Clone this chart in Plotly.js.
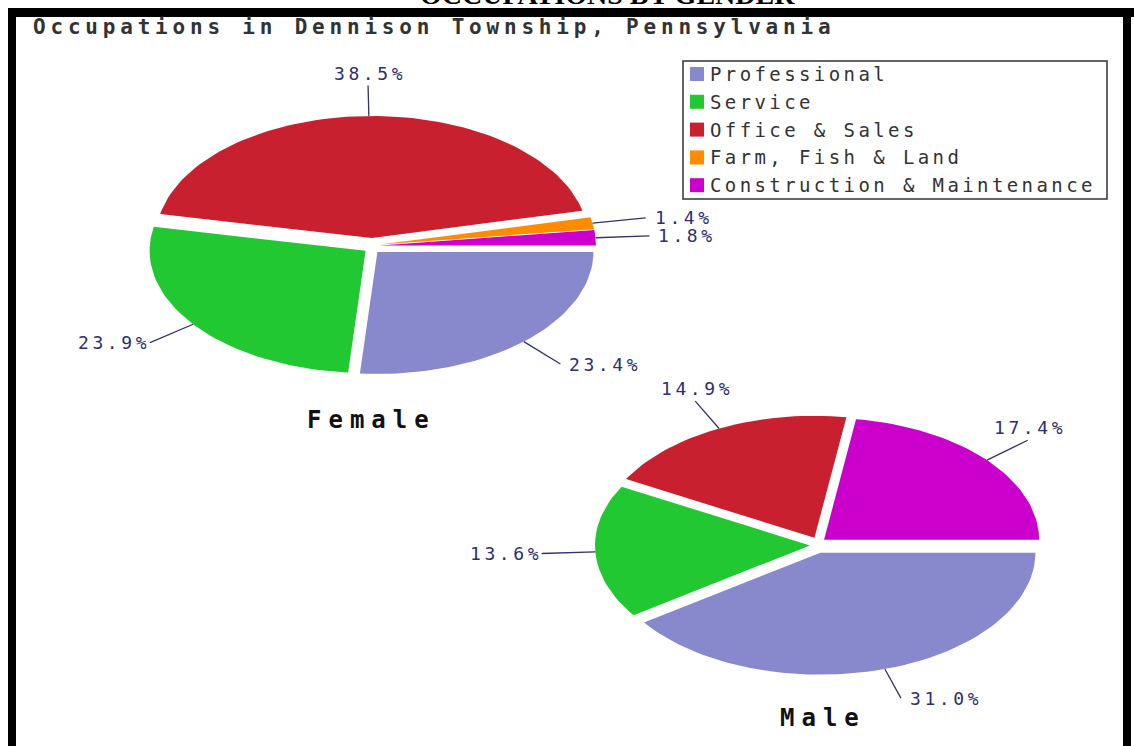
<!DOCTYPE html>
<html><head><meta charset="utf-8">
<script src="https://cdn.plot.ly/plotly-3.0.1.min.js"></script>
<style>html,body{margin:0;padding:0;background:#fff;overflow:hidden}</style>
</head><body><div id="chart" style="width:1134px;height:746px"></div>
<script>
// ---------- data ----------
const categories = ['Professional', 'Service', 'Office & Sales', 'Farm, Fish & Land', 'Construction & Maintenance'];
const femaleValues = [23.4, 23.9, 38.5, 1.4, 1.8];
const maleValues = [31.0, 13.6, 14.9, null, 17.4];
const pieNames = ['Female', 'Male'];
const chartTitle = 'OCCUPATIONS BY GENDER';
const chartSubtitle = 'Occupations in Dennison Township, Pennsylvania';

// ---------- styles / geometry ----------
const sliceColors = ['#8888cc', '#22c832', '#c8202e', '#ff8c00', '#cc00cc'];
const W = 1134, H = 746;
const labelColor = '#2e2e6e';
const mono = '"DejaVu Sans Mono", "Liberation Mono", monospace';
const geom = [
  {cx: 372, cy: 246, rx: 216, ry: 122, pull: 8, nameX: 371, nameY: 420},
  {cx: 818, cy: 545, rx: 215, ry: 122, pull: 8, nameX: 823, nameY: 718}
];
const spaced = (t, ls) => '<span style="letter-spacing:' + ls + 'px">' + t + '</span>';

const traces = [];
const annotations = [];
const shapes = [];

[femaleValues, maleValues].forEach((vals, p) => {
  const g = geom[p];
  const total = vals.reduce((s, v) => s + (v || 0), 0);
  let a = 0;
  const lx = [], ly = [];
  vals.forEach((v, i) => {
    if (!v) return;
    const span = v / total * 2 * Math.PI;
    const a0 = a, a1 = a + span, m = (a0 + a1) / 2;
    a = a1;
    const ox = g.cx + g.pull * Math.cos(m), oy = g.cy + g.pull * Math.sin(m);
    const xs = [ox], ys = [oy];
    const n = Math.max(4, Math.ceil(span / (Math.PI / 90)));
    for (let k = 0; k <= n; k++) {
      const t = a0 + span * k / n;
      xs.push(ox + g.rx * Math.cos(t));
      ys.push(oy + g.ry * Math.sin(t));
    }
    xs.push(ox); ys.push(oy);
    traces.push({
      type: 'scatter', mode: 'lines', x: xs, y: ys, fill: 'toself',
      fillcolor: sliceColors[i], line: {width: 0, color: sliceColors[i]},
      name: categories[i], showlegend: false, hoverinfo: 'text',
      text: pieNames[p] + ' – ' + categories[i] + ': ' + v.toFixed(1) + '%'
    });
    // leader line
    const ex = ox + g.rx * Math.cos(m), ey = oy + g.ry * Math.sin(m);
    const kx = ox + 1.25 * g.rx * Math.cos(m), ky = oy + 1.25 * g.ry * Math.sin(m);
    lx.push(ex, kx, null); ly.push(ey, ky, null);
    const ann = {
      x: kx, y: ky, xref: 'x', yref: 'y', showarrow: false,
      text: spaced(v.toFixed(1) + '%', 3.6),
      font: {family: mono, size: 18, color: labelColor}
    };
    if (Math.sin(m) < -0.5) { ann.xanchor = 'center'; ann.yanchor = 'bottom'; ann.xshift = 2; }
    else if (Math.cos(m) >= 0) { ann.xanchor = 'left'; ann.yanchor = 'middle'; ann.xshift = 7; }
    else { ann.xanchor = 'right'; ann.yanchor = 'middle'; ann.xshift = 2; }
    annotations.push(ann);
  });
  traces.push({
    type: 'scatter', mode: 'lines', x: lx, y: ly, showlegend: false, hoverinfo: 'skip',
    line: {color: '#333366', width: 1.3}
  });
  annotations.push({
    x: g.nameX, y: g.nameY, xref: 'x', yref: 'y', showarrow: false,
    xanchor: 'center', yanchor: 'middle',
    text: spaced('<b>' + pieNames[p] + '</b>', 7),
    font: {family: mono, size: 24, color: '#111'}
  });
});

// legend (manual box)
shapes.push({type: 'rect', xref: 'x', yref: 'y', x0: 683, x1: 1107, y0: 61, y1: 199,
  line: {color: '#333', width: 1.5}, fillcolor: 'rgba(0,0,0,0)'});
categories.forEach((c, i) => {
  const yc = 74 + 27.8 * i;
  shapes.push({type: 'rect', xref: 'x', yref: 'y', x0: 690, x1: 704, y0: yc - 7, y1: yc + 7,
    line: {width: 0}, fillcolor: sliceColors[i]});
  annotations.push({x: 708, y: yc, xref: 'x', yref: 'y', showarrow: false,
    xanchor: 'left', yanchor: 'middle', text: spaced(c, 3.4),
    font: {family: mono, size: 19, color: '#333'}});
});

// frame
shapes.push({type: 'rect', xref: 'x', yref: 'y', x0: 8, x1: W, y0: 8, y1: 17, line: {width: 0}, fillcolor: '#000'});
shapes.push({type: 'rect', xref: 'x', yref: 'y', x0: 8, x1: 16, y0: 8, y1: H, line: {width: 0}, fillcolor: '#000'});
shapes.push({type: 'rect', xref: 'x', yref: 'y', x0: 1123, x1: 1131, y0: 8, y1: H, line: {width: 0}, fillcolor: '#000'});

// titles
annotations.push({x: 607, y: 12, xref: 'x', yref: 'y', showarrow: false, xanchor: 'center', yanchor: 'bottom',
  text: '<b>' + chartTitle + '</b>', font: {family: '"Liberation Serif", "Times New Roman", serif', size: 28, color: '#000'}});
annotations.push({x: 31, y: 27, xref: 'x', yref: 'y', showarrow: false, xanchor: 'left', yanchor: 'middle',
  text: spaced('<b>' + chartSubtitle + '</b>', 4.8),
  font: {family: mono, size: 21, color: '#333'}});

const layout = {
  width: W, height: H, margin: {l: 0, r: 0, t: 0, b: 0},
  paper_bgcolor: '#fff', plot_bgcolor: '#fff',
  xaxis: {range: [0, W], visible: false, fixedrange: true},
  yaxis: {range: [H, 0], visible: false, fixedrange: true},
  showlegend: false, shapes: shapes, annotations: annotations
};
Plotly.newPlot('chart', traces, layout, {displayModeBar: false, staticPlot: true});
</script></body></html>
